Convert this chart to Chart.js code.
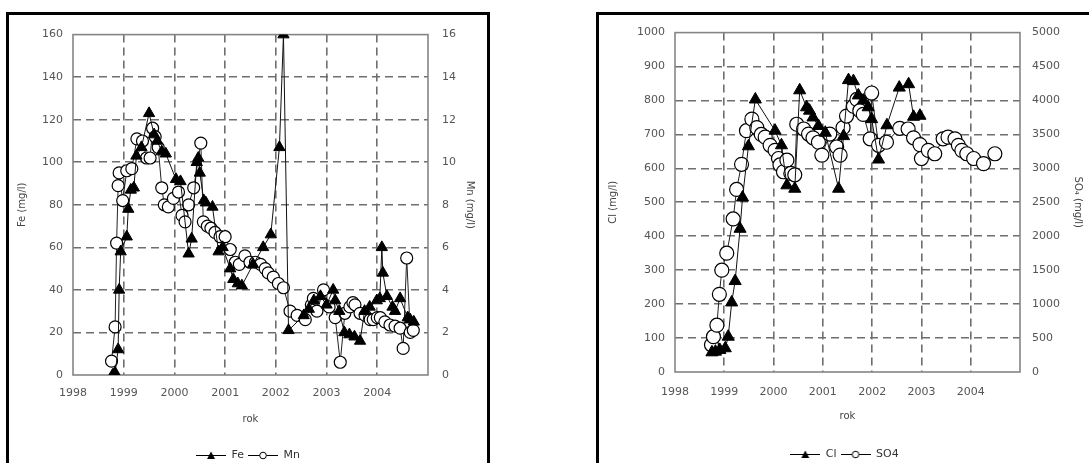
<!DOCTYPE html>
<html>
<head>
<meta charset="utf-8">
<script src="https://cdn.jsdelivr.net/npm/chart.js@4.4.1/dist/chart.umd.min.js"></script>
<style>
html, body { margin: 0; padding: 0; background: #fff; width: 1089px; height: 463px; overflow: hidden; }
.box { position: absolute; border: 3px solid #000; box-sizing: border-box; }
#box1 { left: 6px; top: 12px; width: 484px; height: 520px; }
#box2 { left: 596px; top: 12px; width: 520px; height: 520px; }
canvas { position: absolute; }
#feChart { left: 8px; top: 14px; }
#clChart { left: 600px; top: 14px; }
</style>
</head>
<body>
<div class="box" id="box1"></div>
<div class="box" id="box2"></div>
<canvas id="feChart" width="480" height="457"></canvas>
<canvas id="clChart" width="489" height="456"></canvas>
<script>
// --- dane ---
const yearTicks = [1998, 1999, 2000, 2001, 2002, 2003, 2004];

// Fe (mg/l), lewa os
const feYears = [1998.78, 1998.80, 1998.83, 1998.89, 1998.91, 1998.94, 1999.06, 1999.09, 1999.14, 1999.20,
    1999.25, 1999.35, 1999.50, 1999.60, 1999.66, 1999.75, 1999.83, 2000.03, 2000.12, 2000.28,
    2000.34, 2000.44, 2000.47, 2000.50, 2000.58, 2000.62, 2000.75, 2000.87, 2000.95, 2001.10,
    2001.16, 2001.25, 2001.33, 2001.55, 2001.75, 2001.90, 2002.07, 2002.15, 2002.25, 2002.55,
    2002.65, 2002.75, 2002.88, 2003.00, 2003.13, 2003.17, 2003.25, 2003.35, 2003.45, 2003.55,
    2003.66, 2003.75, 2003.85, 2003.99, 2004.05, 2004.09, 2004.11, 2004.19, 2004.30, 2004.35,
    2004.45, 2004.60, 2004.65, 2004.72];
const feValues = [0, 0, 1, 12, 40, 58, 65, 78, 87, 88,
    103, 107, 123, 113, 110, 105, 104, 92, 91, 57,
    64, 100, 102, 95, 82, 81, 79, 58, 60, 50,
    45, 43, 42, 52, 60, 66, 107, 160, 21, 28,
    31, 35, 37, 33, 40, 35, 30, 20, 19, 18,
    16, 30, 32, 35, 36, 60, 48, 37, 32, 30,
    36, 27, 26, 25];

// Mn (mg/l), prawa os
const mnYears = [1998.76, 1998.83, 1998.86, 1998.89, 1998.91, 1998.98, 1999.06, 1999.16, 1999.26, 1999.37,
    1999.45, 1999.52, 1999.57, 1999.62, 1999.68, 1999.75, 1999.80, 1999.88, 1999.98, 2000.08,
    2000.15, 2000.21, 2000.28, 2000.38, 2000.52, 2000.57, 2000.65, 2000.72, 2000.80, 2000.90,
    2001.00, 2001.10, 2001.20, 2001.28, 2001.39, 2001.49, 2001.60, 2001.70, 2001.79, 2001.85,
    2001.95, 2002.05, 2002.15, 2002.28, 2002.42, 2002.58, 2002.70, 2002.74, 2002.81, 2002.94,
    2003.05, 2003.17, 2003.27, 2003.36, 2003.46, 2003.52, 2003.56, 2003.66, 2003.76, 2003.86,
    2003.92, 2004.00, 2004.06, 2004.15, 2004.25, 2004.35, 2004.45, 2004.51, 2004.58, 2004.65,
    2004.71];
const mnValues = [0.65, 2.26, 6.2, 8.9, 9.5, 8.2, 9.6, 9.7, 11.1, 11.0,
    10.2, 10.2, 11.6, 11.2, 10.7, 8.8, 8.0, 7.9, 8.3, 8.6,
    7.5, 7.2, 8.0, 8.8, 10.9, 7.2, 7.0, 6.9, 6.7, 6.5,
    6.5, 5.9, 5.3, 5.2, 5.6, 5.3, 5.3, 5.2, 5.0, 4.8,
    4.6, 4.3, 4.1, 3.0, 2.8, 2.6, 3.3, 3.6, 3.0, 4.0,
    3.2, 2.7, 0.6, 2.9, 3.2, 3.4, 3.3, 2.9, 2.8, 2.6,
    2.6, 2.7, 2.7, 2.5, 2.35, 2.3, 2.2, 1.25, 5.5, 2.0,
    2.1];

// Cl (mg/l), lewa os
const clYears = [1998.75, 1998.82, 1998.91, 1999.02, 1999.08, 1999.15, 1999.22, 1999.32, 1999.37, 1999.49,
    1999.63, 2000.03, 2000.16, 2000.27, 2000.43, 2000.53, 2000.67, 2000.73, 2000.80, 2000.91,
    2001.05, 2001.32, 2001.42, 2001.52, 2001.62, 2001.72, 2001.82, 2001.92, 2001.99, 2002.13,
    2002.30, 2002.55, 2002.74, 2002.84, 2002.97];
const clValues = [58, 60, 65, 70, 104, 205, 268, 422, 514, 665,
    803, 711, 668, 550, 540, 830, 780, 770, 750, 725,
    705, 540, 695, 860, 857, 815, 800, 780, 745, 626,
    727, 838, 848, 752, 755];

// SO4 (mg/l), prawa os
const so4Years = [1998.74, 1998.78, 1998.85, 1998.90, 1998.95, 1999.05, 1999.18, 1999.25, 1999.35, 1999.45,
    1999.56, 1999.66, 1999.75, 1999.83, 1999.93, 2000.03, 2000.10, 2000.13, 2000.20, 2000.27,
    2000.35, 2000.43, 2000.47, 2000.61, 2000.71, 2000.80, 2000.91, 2000.98, 2001.14, 2001.28,
    2001.35, 2001.41, 2001.48, 2001.62, 2001.69, 2001.75, 2001.82, 2001.96, 2001.99, 2002.13,
    2002.29, 2002.56, 2002.73, 2002.84, 2002.97, 2003.00, 2003.14, 2003.27, 2003.44, 2003.54,
    2003.68, 2003.75, 2003.82, 2003.92, 2004.06, 2004.26, 2004.49];
const so4Values = [400, 520, 690, 1145, 1500, 1750, 2255, 2690, 3060, 3555,
    3725, 3600, 3500, 3460, 3340, 3265, 3145, 3050, 2950, 3120,
    2925, 2905, 3650, 3580, 3505, 3450, 3385, 3195, 3505, 3315,
    3195, 3600, 3770, 3915, 4015, 3850, 3795, 3435, 4110, 3340,
    3385, 3590, 3580, 3450, 3350, 3145, 3265, 3215, 3435, 3460,
    3435, 3340, 3265, 3215, 3145, 3070, 3215];

const FONT = 'DejaVu Sans, Verdana, sans-serif';
const GRID = '#6e6e6e';

function toPoints(xs, ys) {
    return xs.map((x, i) => ({ x: x, y: ys[i] }));
}

// mala ikonka do legendy: linia + znacznik
function legendIcon(kind) {
    const c = document.createElement('canvas');
    c.width = 30;
    c.height = 11;
    const g = c.getContext('2d');
    g.strokeStyle = '#000';
    g.lineWidth = 1;
    g.beginPath();
    g.moveTo(0, 5.5);
    g.lineTo(30, 5.5);
    g.stroke();
    if (kind === 'triangle') {
        g.fillStyle = '#000';
        g.beginPath();
        g.moveTo(15, 1.5);
        g.lineTo(19, 9);
        g.lineTo(11, 9);
        g.closePath();
        g.fill();
    } else {
        g.fillStyle = '#fff';
        g.beginPath();
        g.arc(15, 5.5, 3.3, 0, Math.PI * 2);
        g.fill();
        g.stroke();
    }
    return c;
}

// ramka obszaru wykresu (ciagla, szara)
const plotFrame = {
    id: 'plotFrame',
    beforeDatasetsDraw(chart) {
        const a = chart.chartArea;
        const g = chart.ctx;
        g.save();
        g.strokeStyle = '#858585';
        g.lineWidth = 1.6;
        g.setLineDash([]);
        g.strokeRect(a.left, a.top, a.right - a.left, a.bottom - a.top);
        g.restore();
    }
};

function edgeless(min, max) {
    return ctx => (ctx.tick && (ctx.tick.value === min || ctx.tick.value === max)) ? 'rgba(0,0,0,0)' : GRID;
}

function makeChart(id, o) {
    const icons = [legendIcon('triangle'), legendIcon('circle')];
    return new Chart(document.getElementById(id), {
        type: 'scatter',
        data: {
            datasets: [
                {
                    label: o.names[0],
                    data: toPoints(o.xs[0], o.ys[0]),
                    yAxisID: 'y',
                    showLine: true,
                    borderColor: '#111',
                    borderWidth: 1,
                    pointStyle: 'triangle',
                    pointRadius: o.triR,
                    pointBackgroundColor: '#000',
                    pointBorderColor: '#000',
                    pointBorderWidth: 1
                },
                {
                    label: o.names[1],
                    data: toPoints(o.xs[1], o.ys[1]),
                    yAxisID: 'y2',
                    showLine: true,
                    borderColor: '#222',
                    borderWidth: 1,
                    pointStyle: 'circle',
                    pointRadius: o.circR,
                    pointBackgroundColor: '#fff',
                    pointBorderColor: '#000',
                    pointBorderWidth: 1.2
                }
            ]
        },
        options: {
            responsive: false,
            animation: false,
            layout: { padding: { top: o.top, left: 0, right: 0, bottom: 0 } },
            plugins: {
                tooltip: { enabled: false },
                legend: {
                    position: 'bottom',
                    labels: {
                        usePointStyle: true,
                        pointStyleWidth: 30,
                        padding: 4,
                        color: '#333',
                        font: { family: FONT, size: 11 },
                        generateLabels(chart) {
                            const items = Chart.defaults.plugins.legend.labels.generateLabels(chart);
                            items.forEach((it, i) => { it.pointStyle = icons[i]; });
                            return items;
                        }
                    }
                }
            },
            scales: {
                x: {
                    type: 'linear',
                    min: 1998,
                    max: 2005,
                    afterBuildTicks: s => { s.ticks = yearTicks.concat([2005]).map(v => ({ value: v })); },
                    afterFit: s => { s.height = o.xHeight; },
                    ticks: {
                        padding: o.xPad,
                        color: '#555',
                        font: { family: FONT, size: 11 },
                        callback: v => yearTicks.includes(v) ? String(v) : ''
                    },
                    grid: { color: edgeless(1998, 2005), lineWidth: 1.6, drawTicks: false },
                    border: { display: false, dash: [8, 5] },
                    title: {
                        display: true, text: 'rok', color: '#444',
                        font: { family: FONT, size: 10 },
                        padding: { top: 0, bottom: o.xTitlePad }
                    }
                },
                y: {
                    position: 'left',
                    min: 0,
                    max: o.yMax,
                    afterFit: s => { s.width = o.yWidth; },
                    ticks: {
                        stepSize: o.yStep, padding: 10, color: '#555',
                        font: { family: FONT, size: 11 },
                        callback: v => String(v)
                    },
                    grid: { color: edgeless(0, o.yMax), lineWidth: 1.6, drawTicks: false },
                    border: { display: false, dash: [8, 5] },
                    title: {
                        display: true, text: o.yTitle, color: '#444',
                        font: { family: FONT, size: 10 },
                        padding: { top: o.yTitlePad, bottom: 0 }
                    }
                },
                y2: {
                    position: 'right',
                    min: 0,
                    max: o.y2Max,
                    afterFit: s => { s.width = o.y2Width; },
                    ticks: {
                        stepSize: o.y2Step, padding: o.y2Pad, color: '#555',
                        font: { family: FONT, size: 11 },
                        callback: v => String(v)
                    },
                    grid: { drawOnChartArea: false, drawTicks: false },
                    border: { display: false },
                    title: {
                        display: true, text: o.y2Title, color: '#444',
                        font: { family: FONT, size: 10 },
                        padding: { top: o.y2TitlePad, bottom: 0 }
                    }
                }
            }
        },
        plugins: [plotFrame]
    });
}

makeChart('feChart', {
    names: ['Fe', 'Mn'],
    xs: [feYears, mnYears],
    ys: [feValues, mnValues],
    triR: 6.5, circR: 6,
    top: 13, xHeight: 71, xPad: 12, xTitlePad: 21,
    yMax: 160, yStep: 20, yWidth: 65, yTitle: 'Fe (mg/l)', yTitlePad: 8,
    y2Max: 16, y2Step: 2, y2Width: 60, y2Pad: 14, y2Title: 'Mn (mg/l)', y2TitlePad: 12
});

makeChart('clChart', {
    names: ['Cl', 'SO4'],
    xs: [clYears, so4Years],
    ys: [clValues, so4Values],
    triR: 7, circR: 7,
    top: 11, xHeight: 73, xPad: 14, xTitlePad: 23,
    yMax: 1000, yStep: 100, yWidth: 75, yTitle: 'Cl (mg/l)', yTitlePad: 7,
    y2Max: 5000, y2Step: 500, y2Width: 69, y2Pad: 12, y2Title: 'SO\u2084 (mg/l)', y2TitlePad: 5
});
</script>
</body>
</html>
